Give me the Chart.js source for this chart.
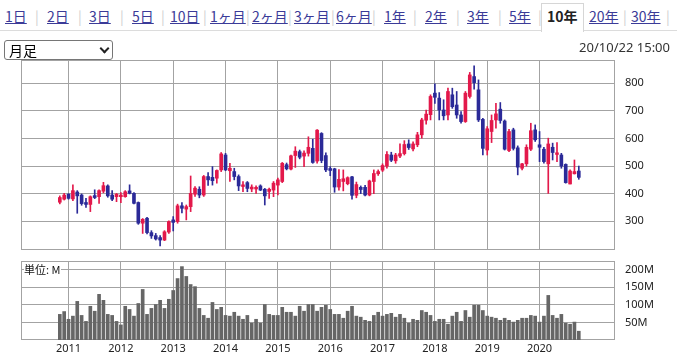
<!DOCTYPE html>
<html><head><meta charset="utf-8">
<script src="https://cdn.jsdelivr.net/npm/chart.js@4.4.1/dist/chart.umd.min.js"></script>
<style>
body{margin:0;width:677px;height:355px;overflow:hidden;background:#fff;position:relative;font-family:"Noto Sans CJK JP","Noto Sans",sans-serif}
#tabs{position:absolute;left:0;top:0;width:677px;height:30px;border-bottom:1px solid #dcdcdc;background:#fff}
.t{position:absolute;top:6px;font-size:14px;line-height:20px;color:#3b3b98;text-decoration:underline;white-space:nowrap}
.sep{position:absolute;top:6px;font-size:14px;line-height:20px;color:#d0d0d0}
#sel{position:absolute;left:541px;top:3px;width:41px;height:28px;border:1px solid #d6d6d6;border-bottom:none;background:#fff}
.cur{color:#222;font-weight:bold;text-decoration:none}
#dd{position:absolute;left:4px;top:40px;width:107px;height:18px;border:1px solid #767676;border-radius:3px;background:#fff;z-index:4}
#dd span{position:absolute;left:4px;top:-1px;font-size:14px;line-height:20px;color:#000}
#dd i{position:absolute;left:96px;top:4px;width:5px;height:5px;border-right:2px solid #222;border-bottom:2px solid #222;transform:rotate(45deg)}
#date{position:absolute;right:7px;top:38px;font-size:13px;line-height:18px;color:#333;font-family:"Noto Sans",sans-serif;z-index:4}
.wrap{position:absolute;left:0;top:0}
.wrap canvas{display:block}
#unit{position:absolute;left:24px;top:262px;font-size:11px;line-height:14px;background:#fff;color:#111;padding-right:1px;z-index:5}
</style></head>
<body>
<div id="tabs">
<div id="sel"></div>
<span class="t" style="left:5px">1日</span><span class="sep" style="left:35px">|</span>
<span class="t" style="left:47px">2日</span><span class="sep" style="left:78px">|</span>
<span class="t" style="left:89px">3日</span><span class="sep" style="left:120px">|</span>
<span class="t" style="left:132px">5日</span><span class="sep" style="left:161px">|</span>
<span class="t" style="left:170px">10日</span><span class="sep" style="left:203px">|</span>
<span class="t" style="left:210px">1ヶ月</span><span class="sep" style="left:246px">|</span>
<span class="t" style="left:252px">2ヶ月</span><span class="sep" style="left:288px">|</span>
<span class="t" style="left:294px">3ヶ月</span><span class="sep" style="left:331px">|</span>
<span class="t" style="left:336px">6ヶ月</span><span class="sep" style="left:372px">|</span>
<span class="t" style="left:384px">1年</span><span class="sep" style="left:413px">|</span>
<span class="t" style="left:425px">2年</span><span class="sep" style="left:456px">|</span>
<span class="t" style="left:467px">3年</span><span class="sep" style="left:498px">|</span>
<span class="t" style="left:509px">5年</span><span class="sep" style="left:538px">|</span>
<span class="t cur" style="left:547px">10年</span>
<span class="t" style="left:589px">20年</span><span class="sep" style="left:623px">|</span>
<span class="t" style="left:631px">30年</span><span class="sep" style="left:666px">|</span>
</div>
<div id="dd"><span>月足</span><i></i></div>
<div id="date">20/10/22 15:00</div>
<div id="pw" class="wrap"><canvas id="pc" width="740" height="260"></canvas></div>
<div id="vw" class="wrap"><canvas id="vc" width="740" height="160"></canvas></div>
<div id="unit">単位: M</div>
<script>
const months = [
 '2010/11','2010/12',
 '2011/01','2011/02','2011/03','2011/04','2011/05','2011/06','2011/07','2011/08','2011/09','2011/10','2011/11','2011/12',
 '2012/01','2012/02','2012/03','2012/04','2012/05','2012/06','2012/07','2012/08','2012/09','2012/10','2012/11','2012/12',
 '2013/01','2013/02','2013/03','2013/04','2013/05','2013/06','2013/07','2013/08','2013/09','2013/10','2013/11','2013/12',
 '2014/01','2014/02','2014/03','2014/04','2014/05','2014/06','2014/07','2014/08','2014/09','2014/10','2014/11','2014/12',
 '2015/01','2015/02','2015/03','2015/04','2015/05','2015/06','2015/07','2015/08','2015/09','2015/10','2015/11','2015/12',
 '2016/01','2016/02','2016/03','2016/04','2016/05','2016/06','2016/07','2016/08','2016/09','2016/10','2016/11','2016/12',
 '2017/01','2017/02','2017/03','2017/04','2017/05','2017/06','2017/07','2017/08','2017/09','2017/10','2017/11','2017/12',
 '2018/01','2018/02','2018/03','2018/04','2018/05','2018/06','2018/07','2018/08','2018/09','2018/10','2018/11','2018/12',
 '2019/01','2019/02','2019/03','2019/04','2019/05','2019/06','2019/07','2019/08','2019/09','2019/10','2019/11','2019/12',
 '2020/01','2020/02','2020/03','2020/04','2020/05','2020/06','2020/07','2020/08','2020/09','2020/10'
];
const open = [
 369,380,
 398,381,406,395,368,361,393,389,409,428,395,389,
 389,389,410,401,368,293,311,259,248,241,232,261,
 305,299,356,344,353,398,416,395,462,459,456,486,
 540,483,480,462,426,440,417,417,428,416,408,413,
 431,444,505,489,538,552,536,546,564,518,618,538,
 491,490,424,444,436,461,394,423,423,395,444,472,
 485,500,540,519,536,545,580,562,577,613,666,686,
 764,746,703,685,758,721,685,661,752,824,776,669,
 558,625,667,706,663,556,631,566,492,508,561,631,
 577,561,508,568,542,540,506,435,472,482
];
const high = [
 392,401,
 400,432,411,399,383,392,414,414,441,432,411,401,
 404,411,432,404,370,310,314,266,256,248,266,302,
 317,362,368,359,464,426,425,466,476,498,486,549,
 546,510,492,468,444,444,432,428,432,419,420,444,
 456,513,511,540,570,558,555,606,597,632,621,548,
 498,492,487,486,461,463,442,428,430,449,486,486,
 508,552,550,546,580,592,595,588,622,673,703,758,
 798,766,740,782,782,770,697,770,839,863,812,673,
 643,685,727,730,667,633,637,573,510,577,655,649,
 625,568,601,583,585,546,508,486,522,500
];
const low = [
 363,377,
 380,375,329,358,350,335,382,365,403,387,375,371,
 367,387,399,363,289,256,254,238,232,211,230,256,
 265,293,330,305,335,390,385,390,430,431,438,480,
 483,444,450,411,407,407,407,401,411,359,383,389,
 395,440,486,486,495,526,498,536,510,510,512,480,
 465,405,413,410,432,380,385,400,392,392,400,466,
 480,492,516,510,530,540,560,555,570,601,652,667,
 727,667,667,667,709,673,655,658,746,778,661,540,
 540,585,637,655,558,552,558,468,486,500,556,589,
 516,510,401,522,516,492,438,435,471,452
];
const close = [
 386,395,
 383,411,392,364,361,389,386,411,429,392,380,398,
 395,407,401,365,293,307,259,247,236,232,262,299,
 296,356,347,353,401,420,395,462,450,447,484,544,
 486,492,462,428,432,419,424,423,413,392,416,438,
 450,510,490,537,554,532,547,568,513,630,520,486,
 484,424,452,454,458,394,433,415,395,446,473,480,
 502,542,521,540,545,578,567,580,613,667,688,752,
 749,703,682,770,715,685,661,764,830,802,667,564,
 635,665,689,665,561,625,564,496,508,568,628,595,
 568,516,580,549,548,500,440,482,480,459
];
const volume = [
 73,81,
 59,68,110,70,53,96,82,130,113,73,70,53,
 43,96,87,68,104,144,73,90,101,113,90,116,
 141,175,209,181,158,152,90,70,62,107,87,93,
 70,68,79,68,59,70,48,59,48,101,73,70,
 70,93,79,79,68,96,82,101,101,82,93,99,
 87,73,73,62,82,96,68,65,56,53,70,79,
 68,73,76,65,73,62,48,59,56,84,79,70,
 53,59,59,45,68,79,53,84,65,99,99,84,
 68,65,62,56,62,56,51,56,62,62,70,68,
 51,68,127,70,62,73,48,45,51,25
];
const yearLabels = ['2011','2012','2013','2014','2015','2016','2017','2018','2019','2020'];
const priceTicks = [300,400,500,600,700,800];
const volumeTicks = [50,100,150,200];

const UP = '#e3194b', DOWN = '#2b2a98', GRID = '#a3a3a3', VOL = '#666666';
const X_MIN = -8.9, X_MAX = 127.3;
const yearIdx = yearLabels.map(y => months.indexOf(y + '/01'));
const FONT = {family: 'Noto Sans', size: 11};

const frame = {id: 'frame', beforeDatasetsDraw(c) {
  const a = c.chartArea, g = c.ctx;
  g.save(); g.strokeStyle = GRID; g.lineWidth = 1;
  g.strokeRect(Math.round(a.left) + 0.5, Math.round(a.top) + 0.5,
               Math.round(a.right - a.left) - 1, Math.round(a.bottom - a.top) - 1);
  g.restore();
}};

function xAxis(show) {
  return {
    type: 'linear', min: X_MIN, max: X_MAX, offset: false,
    afterBuildTicks: s => { s.ticks = yearIdx.map(v => ({value: v})); },
    grid: {color: GRID, drawTicks: false, offset: false},
    border: {display: false},
    ticks: {display: show, autoSkip: false, maxRotation: 0, padding: 2, color: '#222', font: FONT,
            callback: (v, i) => yearLabels[i]},
    afterFit: s => { s.height = show ? 15 : 0; }
  };
}
function yAxis(min, max, ticks, fmt) {
  return {
    position: 'right', min: min, max: max,
    afterBuildTicks: s => { s.ticks = ticks.map(v => ({value: v})); },
    grid: {color: GRID, drawTicks: false},
    border: {display: false},
    ticks: {padding: 10, color: '#222', font: FONT, callback: fmt},
    afterFit: s => { s.width = 62; }
  };
}
const colors = open.map((o, i) => close[i] >= o ? UP : DOWN);

function makeOptions(pad, x, y) {
  return {
    responsive: false, maintainAspectRatio: false, animation: false, events: [],
    plugins: {legend: {display: false}, tooltip: {enabled: false}},
    layout: {padding: pad},
    scales: {x: x, y: y}
  };
}
// fit the plot area onto the reference's pixel box
function place(chart, pad, wrap, L, R, T, B) {
  for (let k = 0; k < 3; k++) {
    const a = chart.chartArea;
    pad.bottom += (a.bottom - a.top) - (B - T);
    pad.right += (a.right - a.left) - (R - L);
    chart.update();
  }
  const a = chart.chartArea;
  wrap.style.left = (L - a.left) + 'px';
  wrap.style.top = (T - a.top) + 'px';
}

const pPad = {left: 30, right: 30, top: 30, bottom: 30};
const priceChart = new Chart(document.getElementById('pc'), {
  type: 'bar',
  data: {datasets: [
    {data: months.map((m, i) => ({x: i, y: [low[i], high[i]]})), backgroundColor: colors,
     barThickness: 1, grouped: false, borderWidth: 0},
    {data: months.map((m, i) => ({x: i, y: [open[i], close[i]]})), backgroundColor: colors,
     barThickness: 3, grouped: false, borderWidth: 0, minBarLength: 1}
  ]},
  options: makeOptions(pPad, xAxis(false), yAxis(196, 884, priceTicks, v => String(v))),
  plugins: [frame]
});
place(priceChart, pPad, document.getElementById('pw'), 21, 615, 60, 250);

const vPad = {left: 30, right: 30, top: 30, bottom: 10};
const volChart = new Chart(document.getElementById('vc'), {
  type: 'bar',
  data: {datasets: [
    {data: months.map((m, i) => ({x: i, y: volume[i]})), backgroundColor: VOL,
     barThickness: 3, grouped: false, borderWidth: 0}
  ]},
  options: makeOptions(vPad, xAxis(true), yAxis(0, 225, volumeTicks, v => v + 'M')),
  plugins: [frame]
});
place(volChart, vPad, document.getElementById('vw'), 21, 615, 261, 340);
</script>
</body></html>
